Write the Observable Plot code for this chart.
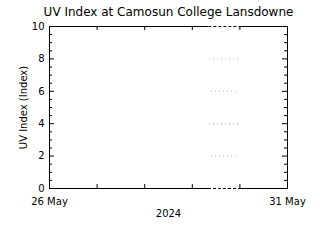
<!DOCTYPE html>
<html>
<head>
<meta charset="utf-8">
<script src="https://cdn.jsdelivr.net/npm/d3@7"></script>
<script src="https://cdn.jsdelivr.net/npm/@observablehq/plot@0.6"></script>
<style>
  html, body { margin: 0; padding: 0; background: white; }
</style>
</head>
<body>
<div id="chart"></div>
<script>
// ---- data ----
const titleText = "UV Index at Camosun College Lansdowne";
const yLabel = "UV Index (Index)";
const xLabel = "2024";
const xStart = "2024-05-26";
const xEnd = "2024-05-31";
const dayTicks = ["2024-05-27", "2024-05-28", "2024-05-29", "2024-05-30"];
const yMajor = [0, 2, 4, 6, 8, 10];
const yMinor = [0.5, 1, 1.5, 2.5, 3, 3.5, 4.5, 5, 5.5, 6.5, 7, 7.5, 8.5, 9, 9.5];
// dotted grey segments (level, start, end)
const dotLevels = [8, 6, 4, 2];
const dotStarts = ["2024-05-29T08:40Z", "2024-05-29T09:40Z", "2024-05-29T08:40Z", "2024-05-29T09:40Z"];
const dotEnds = ["2024-05-29T23:20Z", "2024-05-29T22:20Z", "2024-05-29T23:20Z", "2024-05-29T22:20Z"];
// dashed segments on the frame (level, start, end)
const dashLevels = [10, 0];
const dashStarts = ["2024-05-29T08:20Z", "2024-05-29T08:10Z"];
const dashEnds = ["2024-05-29T23:40Z", "2024-05-29T23:20Z"];

const D = s => new Date(s);
const dots = dotLevels.map((v, i) => ({y: v, a: D(dotStarts[i]), b: D(dotEnds[i])}));
const dashes = dashLevels.map((v, i) => ({y: v, a: D(dashStarts[i]), b: D(dashEnds[i])}));
const days = dayTicks.map(D);

const chart = Plot.plot({
  width: 320,
  height: 240,
  marginLeft: 49,
  marginRight: 33,
  marginTop: 26,
  marginBottom: 52,
  style: {fontFamily: "DejaVu Sans", fontSize: "10px", background: "white", color: "black"},
  x: {type: "utc", domain: [D(xStart), D(xEnd)]},
  y: {domain: [0, 10]},
  marks: [
    Plot.ruleY(dots, {y: "y", x1: "a", x2: "b", stroke: "#b8b8b8", strokeDasharray: "1,3"}),
    Plot.frame({stroke: "black"}),
    Plot.ruleY(dashes, {y: "y", x1: "a", x2: "b", stroke: "white", strokeWidth: 2}),
    Plot.ruleY(dashes, {y: "y", x1: "a", x2: "b", stroke: "black", strokeDasharray: "3,2"}),
    Plot.tickY(yMajor, {y: d => d, insetRight: 233, stroke: "black"}),
    Plot.tickY(yMajor, {y: d => d, insetLeft: 233, stroke: "black"}),
    Plot.tickY(yMinor, {y: d => d, insetRight: 235, stroke: "black"}),
    Plot.tickY(yMinor, {y: d => d, insetLeft: 235, stroke: "black"}),
    Plot.tickX(days, {x: d => d, insetTop: 158, stroke: "black"}),
    Plot.tickX(days, {x: d => d, insetBottom: 158, stroke: "black"}),
    Plot.axisY({ticks: yMajor, tickSize: 0, tickPadding: 5, label: yLabel, labelAnchor: "center", labelArrow: "none", labelOffset: 30}),
    Plot.axisX({ticks: [D(xStart), D(xEnd)], tickSize: 0, tickPadding: 9, tickFormat: d3.utcFormat("%d %b"), label: xLabel, labelAnchor: "center", labelArrow: "none", labelOffset: 28}),
    Plot.text([titleText], {text: d => d, frameAnchor: "top", lineAnchor: "middle", dy: -14, fontSize: 12})
  ]
});
document.getElementById("chart").appendChild(chart);
</script>
</body>
</html>
